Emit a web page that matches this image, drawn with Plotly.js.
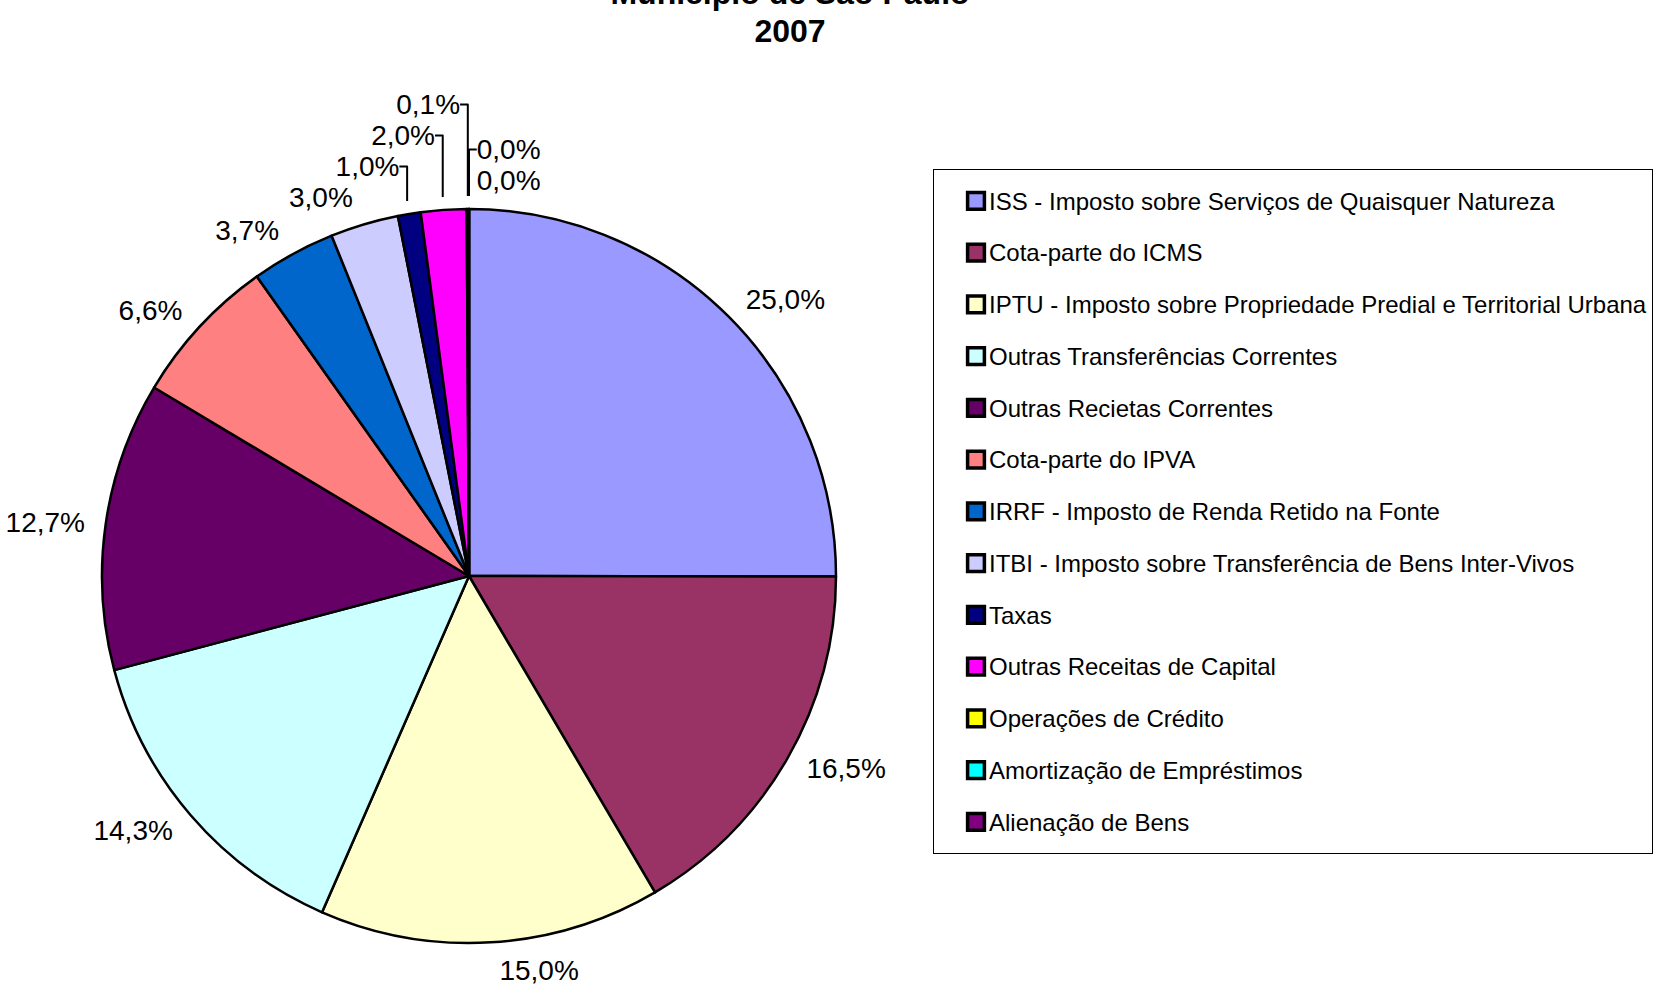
<!DOCTYPE html>
<html>
<head>
<meta charset="utf-8">
<script src="https://cdn.plot.ly/plotly-3.0.1.min.js"></script>
<style>
  html, body { margin: 0; padding: 0; background: #ffffff; }
  #chart { width: 1669px; height: 990px; }
</style>
</head>
<body>
<div id="chart"></div>
<script>
// ---- Data ----
const categories = [
  "ISS - Imposto sobre Serviços de Quaisquer Natureza",
  "Cota-parte do ICMS",
  "IPTU - Imposto sobre Propriedade Predial e Territorial Urbana",
  "Outras Transferências Correntes",
  "Outras Recietas Correntes",
  "Cota-parte do IPVA",
  "IRRF - Imposto de Renda Retido na Fonte",
  "ITBI - Imposto sobre Transferência de Bens Inter-Vivos",
  "Taxas",
  "Outras Receitas de Capital",
  "Operações de Crédito",
  "Amortização de Empréstimos",
  "Alienação de Bens"
];
const shares = [25.0, 16.5, 15.0, 14.3, 12.7, 6.6, 3.7, 3.0, 1.0, 2.0, 0.1, 0.0, 0.0];
const sliceColors = [
  "#9999FF", "#993366", "#FFFFCC", "#CCFFFF", "#660066", "#FF8080", "#0066CC",
  "#CCCCFF", "#000080", "#FF00FF", "#FFFF00", "#00FFFF", "#800080"
];
const titleLines = ["Município de São Paulo", "2007"];

// ---- Chart ----
const FONT = "Liberation Sans, Arial, sans-serif";
const legendLabels = categories.map(c =>
  '<span style="font-size:24px;baseline-shift:6px">' + c + '</span>');
const titleText = titleLines
  .map(t => '<span style="font-size:32px">' + t + '</span>')
  .join("<br>");

// geometry of the pie (pixels in the 1669x990 page)
const W = 1669, H = 990, CX = 469, CY = 576, R = 367, RLAB = 380;
function dom(r) {
  return {
    x: [(CX - r) / W, (CX + r) / W],
    y: [(H - CY - r) / H, (H - CY + r) / H]
  };
}

const pieTrace = {
  type: "pie",
  labels: legendLabels,
  values: shares,
  sort: false,
  direction: "clockwise",
  rotation: 0,
  automargin: false,
  marker: { colors: sliceColors, line: { color: "#000000", width: 2.5 } },
  textinfo: "none",
  hoverinfo: "skip",
  domain: dom(R)
};

// transparent companion pie that only carries the outside percentage labels
const labelTrace = {
  type: "pie",
  labels: legendLabels,
  values: shares,
  sort: false,
  direction: "clockwise",
  rotation: 0,
  automargin: false,
  showlegend: false,
  marker: { colors: sliceColors.map(() => "rgba(0,0,0,0)"), line: { width: 0 } },
  texttemplate: "%{value:.1f}%",
  textposition: "outside",
  textfont: { family: FONT, size: 28, color: "#000000" },
  hoverinfo: "skip",
  domain: dom(RLAB)
};

const layout = {
  width: W,
  height: H,
  paper_bgcolor: "#ffffff",
  plot_bgcolor: "#ffffff",
  separators: ",.",
  margin: { l: 0, r: 0, t: 0, b: 0, autoexpand: false },
  font: { family: FONT, color: "#000000" },
  title: {
    text: titleText,
    font: { family: FONT, size: 29.5, weight: "bold", color: "#000000" },
    xref: "container", yref: "container",
    x: 790 / W, xanchor: "center",
    y: 1 - 4 / H, yanchor: "bottom"
  },
  showlegend: true,
  legend: {
    x: 933 / W, xanchor: "left",
    y: (H - 169) / H, yanchor: "top",
    bordercolor: "#000000", borderwidth: 1,
    bgcolor: "#ffffff",
    itemwidth: 45,
    entrywidth: 760,
    entrywidthmode: "pixels",
    font: { family: FONT, size: 37.5, color: "#000000" },
    traceorder: "normal"
  }
};

Plotly.newPlot("chart", [pieTrace, labelTrace], layout, { displayModeBar: false, staticPlot: true })
  .then(() => {
    // enlarge the legend swatches and place them just left of the text
    document.querySelectorAll("path.legendpie").forEach(p => {
      const r = p.getBoundingClientRect();
      const cx = r.left + r.width / 2;
      const dx = 976 - cx;
      const cur = p.getAttribute("transform") || "";
      p.setAttribute("transform", cur + " translate(" + dx + ",0) scale(1.4)");
    });
  });
</script>
</body>
</html>
